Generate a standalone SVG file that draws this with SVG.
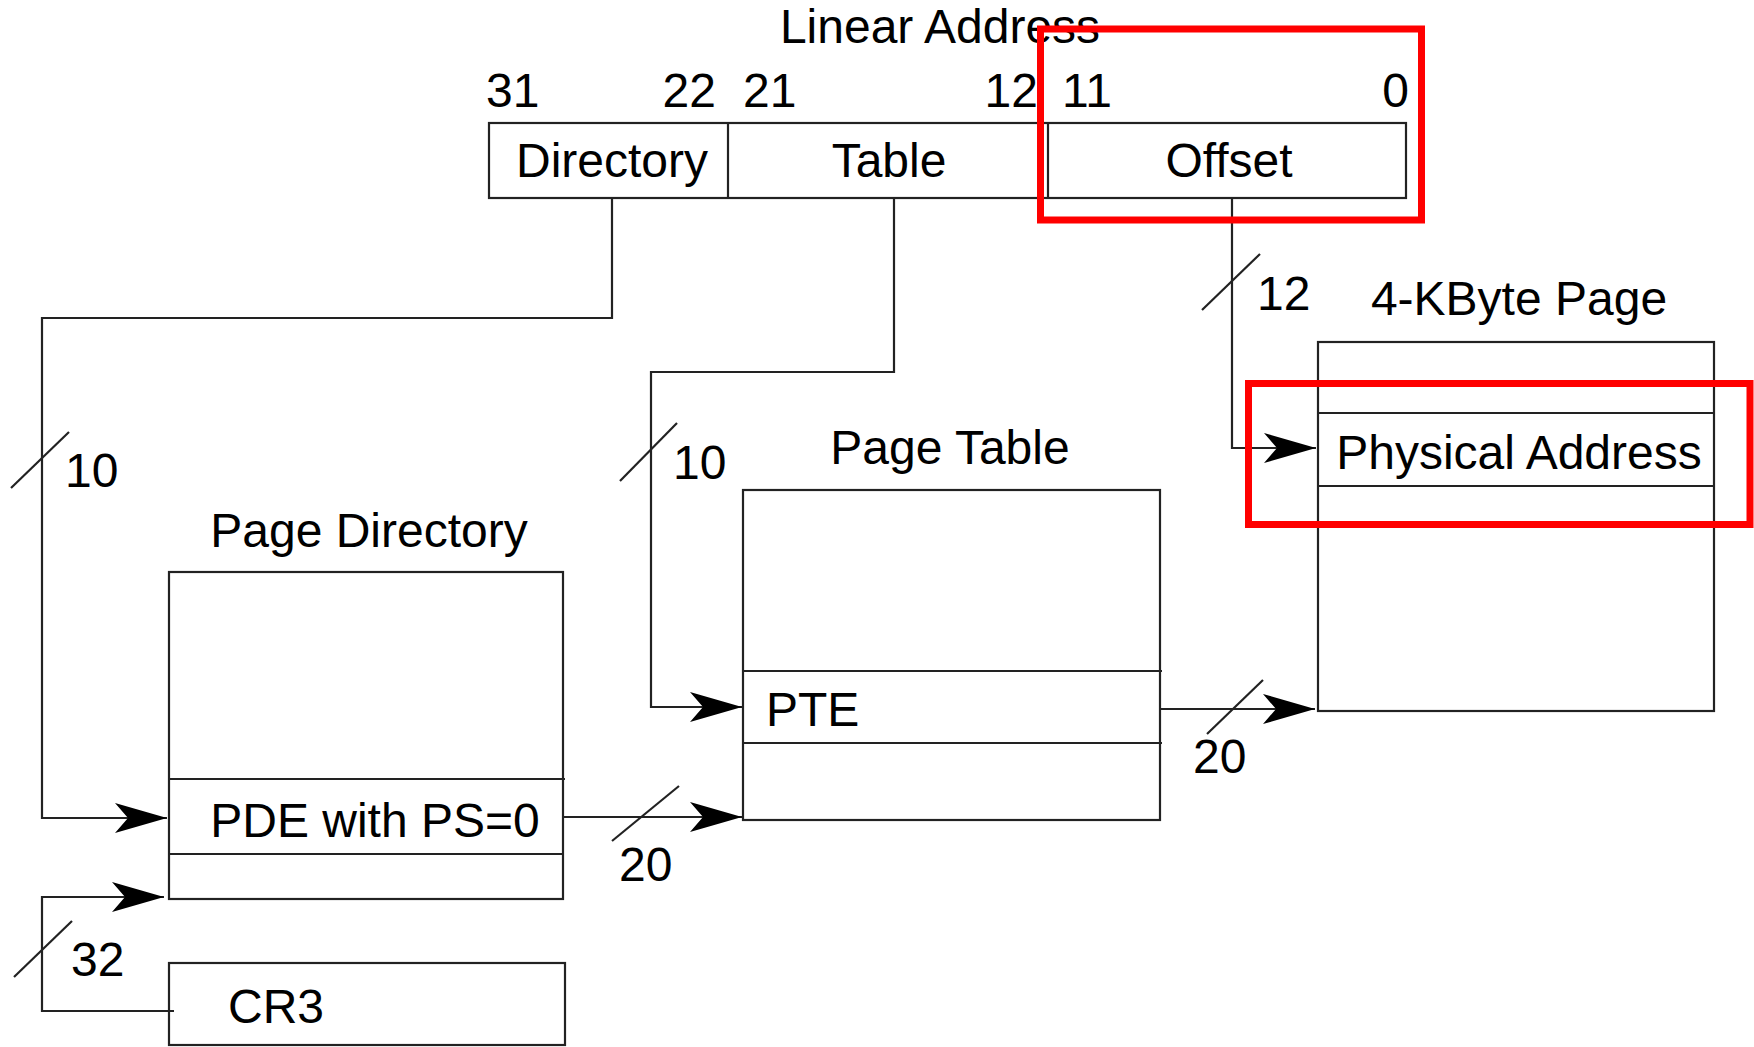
<svg xmlns="http://www.w3.org/2000/svg" width="1754" height="1047" viewBox="0 0 1754 1047">
  <style>
    .box { fill: none; stroke: #222; stroke-width: 2.2; }
    .ln { fill: none; stroke: #222; stroke-width: 2.2; }
    .t { font-family: "Liberation Sans", Arial, sans-serif; font-size: 48px; fill: #000; }
    .m { text-anchor: middle; }
    .e { text-anchor: end; }
    .red { fill: none; stroke: #ff0000; stroke-width: 7; }
  </style>
  <defs>
    <marker id="arr" viewBox="0 0 52 30" refX="52" refY="15" markerWidth="52" markerHeight="30" orient="auto" markerUnits="userSpaceOnUse">
      <path d="M0,0 L52,15 L0,30 L13,15 Z" fill="#000"/>
    </marker>
  </defs>
  <rect width="1754" height="1047" fill="#fff"/>

  <g id="linear-address">
    <text class="t m" x="940" y="43">Linear Address</text>
    <text class="t" x="486" y="107">31</text>
    <text class="t e" x="716" y="107">22</text>
    <text class="t" x="743" y="107">21</text>
    <text class="t e" x="1038" y="107">12</text>
    <text class="t" x="1062" y="107">11</text>
    <text class="t e" x="1409" y="107">0</text>
    <rect class="box" x="489" y="123" width="917" height="75"/>
    <line class="ln" x1="728" y1="123" x2="728" y2="198"/>
    <line class="ln" x1="1048" y1="123" x2="1048" y2="198"/>
    <text class="t m" x="612" y="177">Directory</text>
    <text class="t m" x="889" y="177">Table</text>
    <text class="t m" x="1229" y="177">Offset</text>
  </g>

  <g id="page-directory">
    <text class="t m" x="369" y="547">Page Directory</text>
    <rect class="box" x="169" y="572" width="394" height="327"/>
    <line class="ln" x1="169" y1="779" x2="565" y2="779"/>
    <line class="ln" x1="169" y1="854" x2="563" y2="854"/>
    <text class="t m" x="375" y="837">PDE with PS=0</text>
  </g>

  <g id="cr3">
    <rect class="box" x="169" y="963" width="396" height="82"/>
    <text class="t m" x="276" y="1023">CR3</text>
  </g>

  <g id="page-table">
    <text class="t m" x="950" y="464">Page Table</text>
    <rect class="box" x="743" y="490" width="417" height="330"/>
    <line class="ln" x1="743" y1="671" x2="1162" y2="671"/>
    <line class="ln" x1="743" y1="743" x2="1162" y2="743"/>
    <text class="t" x="766" y="726">PTE</text>
  </g>

  <g id="page-4k">
    <text class="t m" x="1519" y="315">4-KByte Page</text>
    <rect class="box" x="1318" y="342" width="396" height="369"/>
    <line class="ln" x1="1318" y1="413" x2="1714" y2="413"/>
    <line class="ln" x1="1318" y1="486" x2="1714" y2="486"/>
    <text class="t m" x="1519" y="469">Physical Address</text>
  </g>

  <g id="connectors">
    <polyline class="ln" points="612,198 612,318 42,318 42,818 167,818" marker-end="url(#arr)"/>
    <polyline class="ln" points="894,198 894,372 651,372 651,707 742,707" marker-end="url(#arr)"/>
    <polyline class="ln" points="1232,198 1232,448 1316,448" marker-end="url(#arr)"/>
    <polyline class="ln" points="174,1011 42,1011 42,897 164,897" marker-end="url(#arr)"/>
    <line class="ln" x1="563" y1="817" x2="742" y2="817" marker-end="url(#arr)"/>
    <line class="ln" x1="1160" y1="709" x2="1315" y2="709" marker-end="url(#arr)"/>

    <line class="ln" x1="11" y1="488" x2="69" y2="432"/>
    <text class="t" x="65" y="487">10</text>
    <line class="ln" x1="620" y1="481" x2="677" y2="423"/>
    <text class="t" x="673" y="479">10</text>
    <line class="ln" x1="1202" y1="310" x2="1260" y2="254"/>
    <text class="t" x="1257" y="310">12</text>
    <line class="ln" x1="14" y1="977" x2="72" y2="921"/>
    <text class="t" x="71" y="976">32</text>
    <line class="ln" x1="612" y1="841" x2="679" y2="786"/>
    <text class="t" x="619" y="881">20</text>
    <line class="ln" x1="1207" y1="734" x2="1263" y2="680"/>
    <text class="t" x="1193" y="773">20</text>
  </g>

  <rect class="red" x="1040.5" y="29" width="381" height="191"/>
  <rect class="red" x="1248.5" y="383.5" width="501.5" height="141"/>
</svg>
